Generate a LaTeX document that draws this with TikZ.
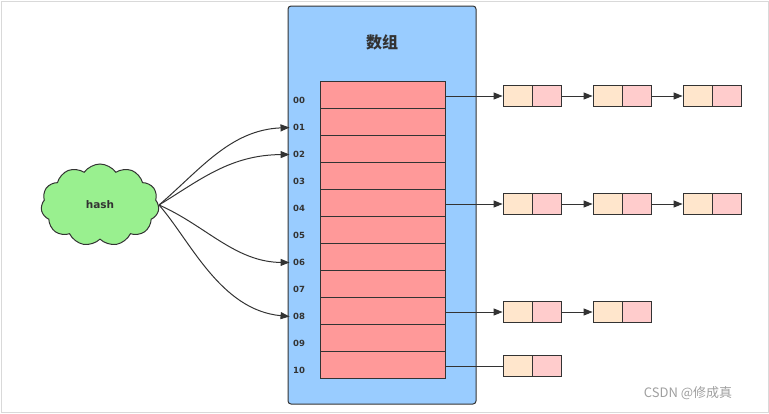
\documentclass[tikz,border=0pt]{standalone}
\usepackage{fontspec}
\setmainfont{DejaVu Sans}
\newfontfamily\cjk{Noto Sans CJK SC}
\usetikzlibrary{shapes.symbols,arrows.meta}
\definecolor{pblue}{HTML}{99CCFF}
\definecolor{pred}{HTML}{FF9999}
\definecolor{nleft}{HTML}{FFE6CC}
\definecolor{nright}{HTML}{FFCCCC}
\definecolor{ink}{HTML}{333333}
\definecolor{cgreen}{HTML}{99F08F}
\tikzset{
  row/.style={draw=ink,fill=pred,minimum width=125pt,minimum height=27pt,inner sep=0,line width=0.8pt},
  lbl/.style={font=\bfseries\fontsize{8.5}{8.5}\selectfont,text=ink},
  half/.style={draw=ink,minimum width=29pt,minimum height=21pt,inner sep=0,line width=0.8pt},
  arr/.style={-{Triangle[length=9pt,width=7pt]},draw=ink,line width=1pt},
}
\begin{document}
\begin{tikzpicture}[x=1pt,y=-1pt]
\useasboundingbox (0,0) rectangle (769,413);
\draw[gray!30] (1,1) rectangle (768,412);
\draw[ink,fill=pblue,rounded corners=3pt,line width=1pt] (288,6) rectangle (476,404);
\node[font=\cjk\bfseries\fontsize{16}{16}\selectfont,text=ink] (title) at (382,42) {数组};
\foreach \i/\t in {0/00,1/01,2/02,3/03,4/04,5/05,6/06,7/07,8/08,9/09,10/10}{
  \node[row] (r\i) at (382.5,{94.5+27*\i}) {};
  \node[lbl] (l\i) at (299,{100.5+27*\i}) {\t};
}
% cloud
\node[cloud,cloud puffs=11,cloud puff arc=110,aspect=1.5,draw=ink,fill=cgreen,line width=1pt,minimum width=118pt,minimum height=82pt,inner sep=0,font=\bfseries\fontsize{10.5}{10.5}\selectfont,text=ink] (hash) at (100,205) {hash};
\coordinate (hs) at (159,205);
\draw[arr] (hs) .. controls (200,170) and (230,130) .. (l1.west);
\draw[arr] (hs) .. controls (200,180) and (230,155) .. (l2.west);
\draw[arr] (hs) .. controls (205,225) and (235,262) .. (l6.west);
\draw[arr] (hs) .. controls (190,240) and (220,310) .. (l8.west);
% chains
\foreach \r/\y/\n in {0/96,4/204,8/312,10/366}{}
\foreach \r/\y/\n in {0/96/3,4/204/3,8/312/2,10/366/1}{
  \foreach \k in {1,...,\n}{
    \node[half,fill=nleft] (a\r\k) at ({517.5+90*(\k-1)},\y) {};
    \node[half,fill=nright] (b\r\k) at ({546.5+90*(\k-1)},\y) {};
  }
}
\foreach \r/\y in {0/96,4/204,8/312}{
  \coordinate (s\r) at (445,\y);
  \draw[arr] (s\r) -- (a\r1.west);
}
\coordinate (s10) at (445,366);
\draw[ink,line width=0.6pt] (s10) -- (a101.west);
\draw[arr] (b01.east) -- (a02.west);
\draw[arr] (b02.east) -- (a03.west);
\draw[arr] (b41.east) -- (a42.west);
\draw[arr] (b42.east) -- (a43.west);
\draw[arr] (b81.east) -- (a82.west);
\node[font=\cjk\fontsize{13}{13}\selectfont,text=gray!75] (wm) at (688,393) {CSDN @修成真};
\end{tikzpicture}
\end{document}
